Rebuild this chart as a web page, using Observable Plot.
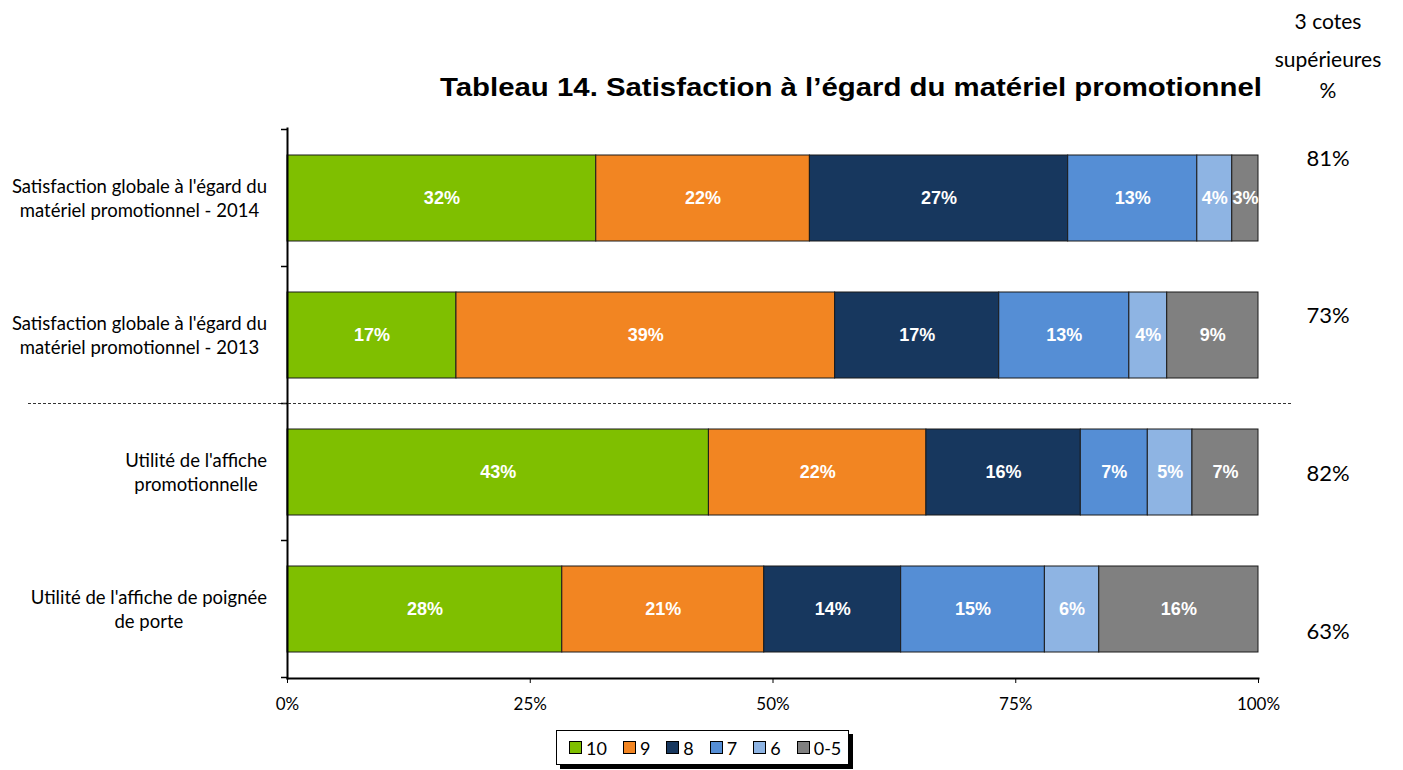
<!DOCTYPE html>
<html>
<head>
<meta charset="utf-8">
<script src="https://cdn.jsdelivr.net/npm/d3@7"></script>
<script src="https://cdn.jsdelivr.net/npm/@observablehq/plot@0.6"></script>
<style>
  body { margin: 0; background: #fff; }
  #wrap { position: relative; width: 1403px; height: 770px; overflow: hidden; font-family: Lato, "Open Sans", sans-serif; }
  #wrap svg { position: absolute; left: 0; top: 0; }
  #legend { position: absolute; left: 556px; top: 730px; width: 293px; height: 35px; box-sizing: border-box;
            border: 1px solid #000; box-shadow: 4px 4px 0 #000; background: #fff;
            display: flex; align-items: center; padding-left: 12px; gap: 16px; font-size: 18px; }
  .li { display: flex; align-items: center; gap: 4px; }
  .sw { width: 11px; height: 11px; border: 1px solid #000; }
</style>
</head>
<body>
<div id="wrap"></div>
<script>
// ---- data ----
const categories = [
  "Satisfaction globale à l'égard du\nmatériel promotionnel - 2014",
  "Satisfaction globale à l'égard du\nmatériel promotionnel - 2013",
  "Utilité de l'affiche\npromotionnelle",
  "Utilité de l'affiche de poignée\nde porte"
];
const grades = ["10", "9", "8", "7", "6", "0-5"];
const gradeColors = ["#7FBF00", "#F28522", "#17375E", "#558ED5", "#8EB4E3", "#808080"];
const s10 = [31.8, 17.4, 43.4, 28.3];
const s9  = [22.0, 39.0, 22.4, 20.8];
const s8  = [26.6, 16.9, 15.9, 14.1];
const s7  = [13.3, 13.4, 6.9, 14.8];
const s6  = [3.6, 3.9, 4.6, 5.6];
const s05 = [2.7, 9.4, 6.8, 16.4];
const top3 = [81, 73, 82, 63];
const xTicks = [0, 25, 50, 75, 100];
const title = "Tableau 14. Satisfaction à l’égard du matériel promotionnel";
const top3Header = ["3 cotes", "supérieures", "%"];

const series = [s10, s9, s8, s7, s6, s05];
const rows = [];
categories.forEach((c, i) => grades.forEach((g, j) => rows.push({cat: c, grade: g, value: series[j][i]})));

const plot = Plot.plot({
  width: 1403, height: 770,
  marginLeft: 287, marginRight: 145, marginTop: 128, marginBottom: 92,
  style: {fontFamily: "Lato, sans-serif", fontSize: "17px", color: "#000", background: "transparent"},
  x: {domain: [0, 100], ticks: xTicks, tickFormat: d => d + "%", tickSize: 5, tickPadding: 14, label: null},
  y: {domain: categories, paddingInner: 0.375, paddingOuter: 0.1875, axis: null},
  color: {domain: grades, range: gradeColors},
  marks: [
    Plot.barX(rows, {x: "value", y: "cat", fill: "grade", stroke: "#1a1a1a", strokeWidth: 1}),
    Plot.text(rows, Plot.stackX({x: "value", y: "cat", text: d => Math.round(d.value) + "%",
      fill: "white", fontWeight: "bold", fontSize: 18, fontFamily: "Liberation Sans, Arial, sans-serif"})),
    Plot.frame({anchor: "bottom", strokeWidth: 2}),
    Plot.frame({anchor: "left", strokeWidth: 2})
  ]
});

const wrap = document.getElementById("wrap");
wrap.appendChild(plot);

const svg = d3.select(plot);
const ys = plot.scale("y");
const xs = plot.scale("x");
const step = ys.step ?? (ys.range[1] - ys.range[0]) / categories.length;
const bw = ys.bandwidth;
const boundaries = categories.map(c => ys.apply(c) - (step - bw) / 2);
boundaries.push(ys.apply(categories[categories.length - 1]) + bw + (step - bw) / 2);
const x0 = xs.apply(0), x100 = xs.apply(100);

const g = svg.append("g");
// y axis boundary ticks
g.selectAll("line.yt").data(boundaries).join("line")
  .attr("x1", x0 - 6).attr("x2", x0).attr("y1", d => d).attr("y2", d => d)
  .attr("stroke", "#000").attr("stroke-width", 1.5);
// dashed separator between 2013 and affiches
g.append("line").attr("x1", 28).attr("x2", x100 + 35)
  .attr("y1", boundaries[2]).attr("y2", boundaries[2])
  .attr("stroke", "#333").attr("stroke-width", 1).attr("stroke-dasharray", "3,2");

// category labels: block right-aligned, lines centred within block
categories.forEach(c => {
  const lines = c.split("\n");
  const cy = ys.apply(c) + bw / 2;
  const texts = lines.map((ln, j) => g.append("text")
    .attr("font-family", "Lato, sans-serif").attr("font-size", 18.5)
    .attr("text-anchor", "middle").attr("dominant-baseline", "central")
    .attr("y", cy + (j - (lines.length - 1) / 2) * 24).text(ln));
  const maxW = d3.max(texts, t => t.node().getComputedTextLength());
  texts.forEach(t => t.attr("x", x0 - 20 - maxW / 2));
});

// title
g.append("text").attr("x", 440).attr("y", 96).attr("text-anchor", "start")
  .attr("font-family", "Liberation Sans, Arial, sans-serif").attr("font-weight", "bold").attr("font-size", 25)
  .attr("textLength", 822).attr("lengthAdjust", "spacingAndGlyphs")
  .text(title);

// top-3 header and values
const colX = x100 + 70;
top3Header.forEach((t, i) => g.append("text").attr("x", colX).attr("y", [20, 58, 89][i])
  .attr("text-anchor", "middle").attr("dominant-baseline", "central")
  .attr("font-family", "Lato, sans-serif").attr("font-size", 21).text(t));
const py = d3.scalePoint().domain(categories).range([157, 630]);
categories.forEach((c, i) => g.append("text").attr("x", colX).attr("y", py(c))
  .attr("text-anchor", "middle").attr("dominant-baseline", "central")
  .attr("font-family", "Lato, sans-serif").attr("font-size", 22).text(top3[i] + "%"));

// legend
const legend = d3.select(wrap).append("div").attr("id", "legend");
grades.forEach((gr, i) => {
  const it = legend.append("div").attr("class", "li");
  it.append("div").attr("class", "sw").style("background", gradeColors[i]);
  it.append("span").text(gr);
});
</script>
</body>
</html>
